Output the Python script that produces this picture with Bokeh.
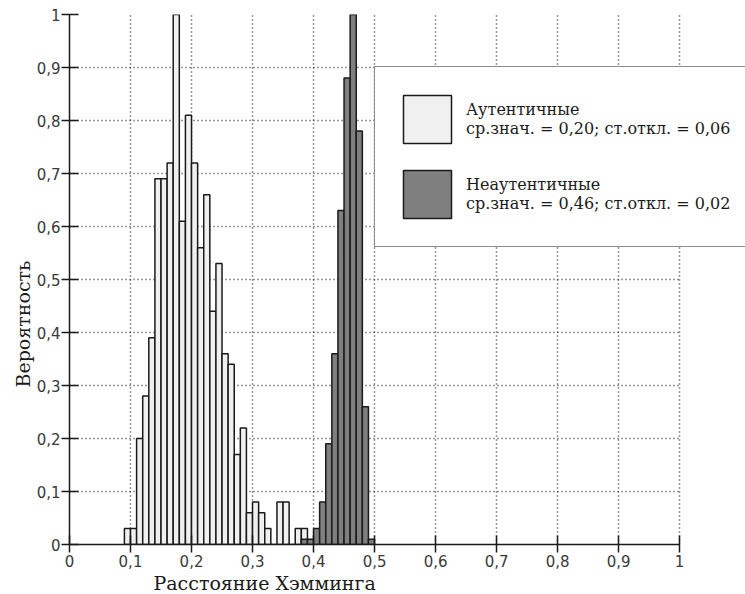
from bokeh.plotting import figure
from bokeh.models import Legend, LegendItem, FixedTicker, Title
from bokeh.embed import file_html
from bokeh.resources import INLINE

# ---- data ----
bin_width = 0.01
auth_left = [0.09, 0.10, 0.11, 0.12, 0.13, 0.14, 0.15, 0.16, 0.17, 0.18,
             0.19, 0.20, 0.21, 0.22, 0.23, 0.24, 0.25, 0.26, 0.27, 0.28,
             0.29, 0.30, 0.31, 0.32, 0.33, 0.34, 0.35, 0.36, 0.37, 0.38]
auth_prob = [0.03, 0.03, 0.20, 0.28, 0.39, 0.69, 0.69, 0.72, 1.00, 0.61,
             0.81, 0.72, 0.56, 0.66, 0.44, 0.53, 0.36, 0.34, 0.17, 0.22,
             0.06, 0.08, 0.06, 0.03, 0.00, 0.08, 0.08, 0.00, 0.03, 0.03]
nonauth_left = [0.38, 0.39, 0.40, 0.41, 0.42, 0.43, 0.44, 0.45, 0.46, 0.47, 0.48, 0.49]
nonauth_prob = [0.01, 0.01, 0.03, 0.08, 0.19, 0.36, 0.63, 0.88, 1.00, 0.78, 0.26, 0.01]

tick_values = [0, 0.1, 0.2, 0.3, 0.4, 0.5, 0.6, 0.7, 0.8, 0.9, 1]
tick_labels = ["0", "0,1", "0,2", "0,3", "0,4", "0,5", "0,6", "0,7", "0,8", "0,9", "1"]

auth_label = "Аутентичные\nср.знач. = 0,20; ст.откл. = 0,06"
nonauth_label = "Неаутентичные\nср.знач. = 0,46; ст.откл. = 0,02"
x_title = "Расстояние Хэмминга"
y_title = "Вероятность"

axis_start, axis_end = tick_values[0], tick_values[-1]

# ---- figure ----
# the frame runs a little past 1 on the right so that the legend box,
# which sticks out beyond the axis end in the original, is not clipped
p = figure(width=745, height=594, x_range=(0, 1.108), y_range=(0, 1),
           output_backend="svg", toolbar_location=None,
           min_border_left=69, min_border_right=0,
           min_border_top=14, min_border_bottom=50)
p.outline_line_color = None
p.background_fill_color = "white"

r_auth = p.quad(left=auth_left, right=[v + bin_width for v in auth_left],
                bottom=0, top=auth_prob,
                fill_color="#f0f0f0", line_color="#1a1a1a", line_width=1.5)
r_non = p.quad(left=nonauth_left, right=[v + bin_width for v in nonauth_left],
               bottom=0, top=nonauth_prob,
               fill_color="#7f7f7f", line_color="#1a1a1a", line_width=1.5)

ticker = FixedTicker(ticks=tick_values)
overrides = dict(zip(tick_values, tick_labels))
for ax in (p.xaxis[0], p.yaxis[0]):
    ax.ticker = ticker
    ax.bounds = (axis_start, axis_end)
    ax.major_label_overrides = overrides
    ax.axis_line_color = "#1a1a1a"
    ax.axis_line_width = 1.5
    ax.major_tick_line_color = "#1a1a1a"
    ax.major_tick_line_width = 1.5
    ax.major_tick_in = 9
    ax.major_tick_out = 8
    ax.minor_tick_line_color = None
    ax.major_label_text_font = "DejaVu Sans"
    ax.major_label_text_font_size = "15px"
    ax.major_label_text_color = "#3a3a3a"

p.xaxis.major_label_text_align = "left"
p.xaxis.major_label_standoff = 2
p.yaxis.major_label_text_baseline = "top"
p.yaxis.major_label_standoff = 1

for g in (p.xgrid[0], p.ygrid[0]):
    g.ticker = ticker
    g.bounds = (axis_start, axis_end)
    g.grid_line_color = "#333333"
    g.grid_line_dash = "1 3"
    g.grid_line_width = 1.5
p.ygrid[0].cross_bounds = (axis_start, axis_end)

p.add_layout(Title(text=x_title, align="left", offset=84, standoff=0,
                   text_font="DejaVu Serif", text_font_size="19px",
                   text_font_style="normal", text_color="#1a1a1a"), "below")
p.add_layout(Title(text=y_title, align="left", offset=157, standoff=0,
                   text_font="DejaVu Serif", text_font_size="19px",
                   text_font_style="normal", text_color="#1a1a1a"), "left")

legend = Legend(items=[LegendItem(label=auth_label, renderers=[r_auth]),
                       LegendItem(label=nonauth_label, renderers=[r_non])],
                location=(305, 297), orientation="vertical",
                glyph_width=60, glyph_height=60, label_standoff=9,
                label_width=255,
                padding=22, spacing=15, margin=0,
                label_text_font="DejaVu Serif", label_text_font_size="16px",
                label_text_line_height=1.5, label_text_color="#1a1a1a",
                border_line_color="#1a1a1a", border_line_width=1.5,
                background_fill_color="white", background_fill_alpha=1)
p.add_layout(legend)

open("out.html", "w").write(file_html(p, INLINE))
